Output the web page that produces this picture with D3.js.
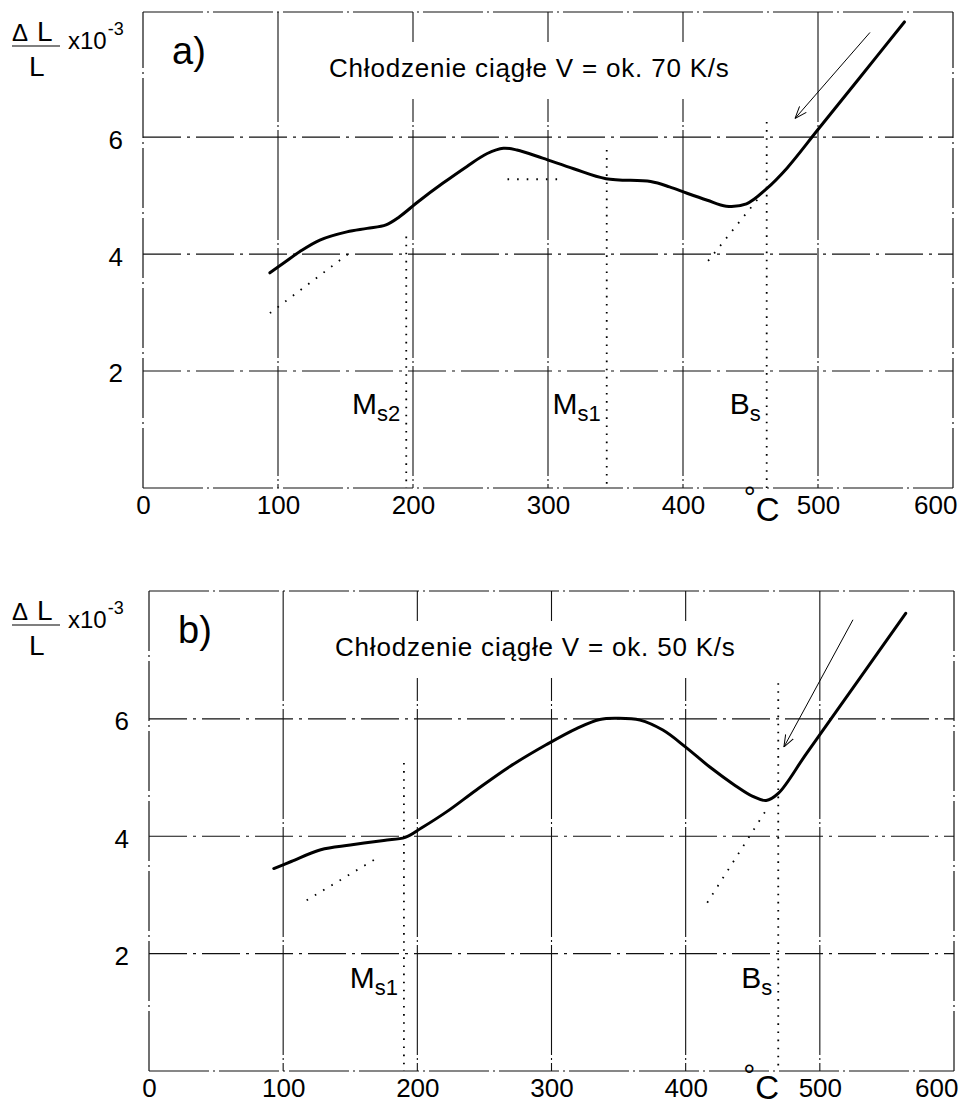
<!DOCTYPE html>
<html>
<head>
<meta charset="utf-8">
<script src="https://cdn.jsdelivr.net/npm/d3@7/dist/d3.min.js"></script>
<style>
  html, body { margin: 0; padding: 0; background: #fff; }
  svg { display: block; }
  text { font-family: "Liberation Sans", Arial, Helvetica, sans-serif; fill: #000; }
</style>
</head>
<body>
<svg id="chart" width="969" height="1105"></svg>
<script>
// Dilatometric curves: relative elongation ΔL/L (x10^-3) vs temperature (°C)

// Axis ticks
const tempTicks = [0, 100, 200, 300, 400, 500, 600];
const strainTicks = [2, 4, 6];

// a) continuous cooling, V ≈ 70 K/s
const titleA = "Chłodzenie ciągłe V = ok. 70 K/s";
const tempA = [94, 105, 116, 131, 151, 166, 180, 190, 204, 222, 240, 255, 267, 277,
               296, 319, 343, 376, 390, 403, 418, 432, 447, 462, 477, 500, 530, 564];
const strainA = [3.68, 3.86, 4.04, 4.24, 4.38, 4.44, 4.50, 4.64, 4.90, 5.21, 5.50, 5.72, 5.81, 5.78,
                 5.64, 5.46, 5.29, 5.24, 5.15, 5.04, 4.92, 4.82, 4.86, 5.12, 5.47, 6.13, 6.99, 7.97];
// transformation start temperatures (vertical dotted markers): [name, subscript, °C, top of marker]
const pointsA = [["M", "s2", 195, 4.3], ["M", "s1", 343.5, 5.78], ["B", "s", 462, 6.26]];
// dotted construction lines: [[T1, ε1], [T2, ε2]]
const guidesA = [
  [[94, 2.99], [153, 4.02]],
  [[270, 5.28], [309, 5.28]],
  [[455, 4.93], [416, 3.81]]
];
// cooling direction arrow
const arrowA = [[538.5, 7.79], [483, 6.32]];

// b) continuous cooling, V ≈ 50 K/s
const titleB = "Chłodzenie ciągłe V = ok. 50 K/s";
const tempB = [93, 106, 128, 150, 175, 191, 203, 222, 244, 269, 296, 319, 336, 349,
               366, 383, 400, 418, 436, 450, 460, 469, 490, 530, 564];
const strainB = [3.45, 3.57, 3.77, 3.85, 3.93, 3.98, 4.14, 4.42, 4.79, 5.19, 5.56, 5.84, 5.99, 6.01,
                 5.98, 5.81, 5.52, 5.18, 4.88, 4.68, 4.61, 4.73, 5.41, 6.70, 7.80];
const pointsB = [["M", "s1", 190, 5.25], ["B", "s", 469, 6.61]];
const guidesB = [
  [[117.5, 2.91], [170, 3.63]],
  [[459, 4.41], [415, 2.83]]
];
const arrowB = [[524.7, 7.69], [473.2, 5.52]];

const svg = d3.select("#chart");
svg.append("rect").attr("width", 969).attr("height", 1105).attr("fill", "#fff");

const defs = svg.append("defs");
defs.append("marker")
  .attr("id", "head")
  .attr("viewBox", "0 0 12 10")
  .attr("refX", 12).attr("refY", 5)
  .attr("markerWidth", 12).attr("markerHeight", 10)
  .attr("markerUnits", "userSpaceOnUse")
  .attr("orient", "auto")
  .append("path")
  .attr("d", "M0,0.5 L12,5 L0,9.5")
  .attr("fill", "none").attr("stroke", "#000").attr("stroke-width", 1);

function drawPanel(p) {
  const g = svg.append("g");
  const x = d3.scaleLinear().domain([0, 600]).range([p.left, p.right]);
  const y = d3.scaleLinear().domain([0, p.yMax]).range([p.bottom, p.top]);

  // grid
  const grid = g.append("g").attr("stroke", "#111").attr("fill", "none");
  grid.selectAll("line.v")
    .data(tempTicks.filter(t => t > 0 && t < 600))
    .join("line")
    .attr("x1", d => x(d)).attr("x2", d => x(d))
    .attr("y1", p.top).attr("y2", p.bottom)
    .attr("stroke-width", 1.1)
    .attr("stroke-dasharray", "110,3,2,3");
  grid.selectAll("line.h")
    .data(strainTicks)
    .join("line")
    .attr("x1", p.left).attr("x2", p.right)
    .attr("y1", d => y(d)).attr("y2", d => y(d))
    .attr("stroke-width", 1.1)
    .attr("stroke-dasharray", "38,6,3,6");

  // frame
  const frame = [
    [[0, 0], [600, 0]], [[0, p.yMax], [600, p.yMax]],
    [[0, 0], [0, p.yMax]], [[600, 0], [600, p.yMax]]
  ];
  grid.selectAll("line.f")
    .data(frame)
    .join("line")
    .attr("x1", d => x(d[0][0])).attr("y1", d => y(d[0][1]))
    .attr("x2", d => x(d[1][0])).attr("y2", d => y(d[1][1]))
    .attr("stroke-width", 1.2)
    .attr("stroke-dasharray", "60,4,2,4");

  // title on a white background
  const titleBox = g.append("rect").attr("fill", "#fff");
  const title = g.append("text")
    .attr("x", p.left + 186)
    .attr("y", p.top + 65)
    .attr("font-size", 26)
    .attr("letter-spacing", "0.8px")
    .text(p.title);
  const bb = title.node().getBBox();
  titleBox.attr("x", bb.x - 10).attr("y", p.top + 30)
    .attr("width", bb.width + 20).attr("height", 57);

  // panel letter
  g.append("text")
    .attr("x", p.left + 29).attr("y", p.top + 52)
    .attr("font-size", 38)
    .text(p.letter);

  // dotted markers at transformation temperatures
  const dotted = g.append("g")
    .attr("stroke", "#000").attr("stroke-width", 1.8)
    .attr("stroke-dasharray", "1.6,6.5").attr("fill", "none");
  dotted.selectAll("line.m")
    .data(p.points)
    .join("line")
    .attr("x1", d => x(d[2])).attr("x2", d => x(d[2]))
    .attr("y1", d => y(d[3])).attr("y2", p.bottom);
  dotted.selectAll("line.g")
    .data(p.guides)
    .join("line")
    .attr("stroke-dasharray", "1.6,8")
    .attr("x1", d => x(d[0][0])).attr("y1", d => y(d[0][1]))
    .attr("x2", d => x(d[1][0])).attr("y2", d => y(d[1][1]));

  // dilatometric curve
  const pts = p.temp.map((t, i) => [t, p.strain[i]]);
  g.append("path")
    .datum(pts)
    .attr("fill", "none")
    .attr("stroke", "#000")
    .attr("stroke-width", 3)
    .attr("stroke-linecap", "round")
    .attr("stroke-linejoin", "round")
    .attr("d", d3.line().x(d => x(d[0])).y(d => y(d[1])).curve(d3.curveCatmullRom.alpha(0.5)));

  // cooling direction arrow
  g.append("line")
    .attr("x1", x(p.arrow[0][0])).attr("y1", y(p.arrow[0][1]))
    .attr("x2", x(p.arrow[1][0])).attr("y2", y(p.arrow[1][1]))
    .attr("stroke", "#000").attr("stroke-width", 1)
    .attr("marker-end", "url(#head)");

  // marker labels (M_s, B_s)
  const lab = g.selectAll("text.pt")
    .data(p.points)
    .join("text")
    .attr("class", "pt")
    .attr("text-anchor", "end")
    .attr("x", d => x(d[2]) - 6)
    .attr("y", y(p.labelLevel));
  lab.append("tspan").attr("font-size", 30).text(d => d[0]);
  lab.append("tspan").attr("font-size", 22).attr("dy", 7).text(d => d[1]);

  // axes (labels only)
  const xAxis = g.append("g")
    .attr("transform", `translate(0,${p.bottom})`)
    .call(d3.axisBottom(x).tickValues(tempTicks).tickSize(0).tickPadding(8));
  xAxis.select(".domain").remove();
  xAxis.selectAll("text")
    .attr("font-size", 26)
    .attr("font-family", "'Liberation Sans', Arial, sans-serif")
    .attr("fill", "#000");
  xAxis.selectAll(".tick").filter(d => d === 600).select("text")
    .attr("text-anchor", "end").attr("dx", 4);

  const yAxis = g.append("g")
    .attr("transform", `translate(${p.left},0)`)
    .call(d3.axisLeft(y).tickValues(strainTicks).tickSize(0).tickPadding(20));
  yAxis.select(".domain").remove();
  yAxis.selectAll("text")
    .attr("font-size", 26)
    .attr("dy", "0.42em")
    .attr("font-family", "'Liberation Sans', Arial, sans-serif")
    .attr("fill", "#000");

  // unit °C
  const unit = g.append("text")
    .attr("x", x(p.unitAt)).attr("y", p.bottom + p.unitDrop);
  unit.append("tspan").attr("font-size", 30).attr("dy", -14).text("°");
  unit.append("tspan").attr("font-size", 33).attr("dy", 14).attr("dx", 0).text("C");

  // y-axis quantity ΔL/L x10^-3
  const fl = p.top + 34;
  const q = g.append("g");
  const top = q.append("text").attr("y", fl - 5);
  top.append("tspan").attr("x", 12).attr("font-size", 24).text("Δ");
  top.append("tspan").attr("x", 37).attr("font-size", 28).text("L");
  q.append("line")
    .attr("x1", 12).attr("x2", 60).attr("y1", fl).attr("y2", fl)
    .attr("stroke", "#000").attr("stroke-width", 1.2);
  q.append("text").attr("x", 29).attr("y", fl + 30).attr("font-size", 28).text("L");
  const mult = q.append("text").attr("x", 68).attr("y", fl + 3);
  mult.append("tspan").attr("font-size", 24).text("x10");
  mult.append("tspan").attr("font-size", 18).attr("dy", -14).attr("dx", 1).text("-3");
}

drawPanel({
  left: 143, right: 953, top: 12, bottom: 488, yMax: 8.14,
  title: titleA, letter: "a)",
  temp: tempA, strain: strainA, points: pointsA, guides: guidesA, arrow: arrowA,
  labelLevel: 1.27, unitAt: 445, unitDrop: 33
});

drawPanel({
  left: 149, right: 954, top: 591, bottom: 1071, yMax: 8.18,
  title: titleB, letter: "b)",
  temp: tempB, strain: strainB, points: pointsB, guides: guidesB, arrow: arrowB,
  labelLevel: 1.41, unitAt: 443, unitDrop: 28
});
</script>
</body>
</html>
